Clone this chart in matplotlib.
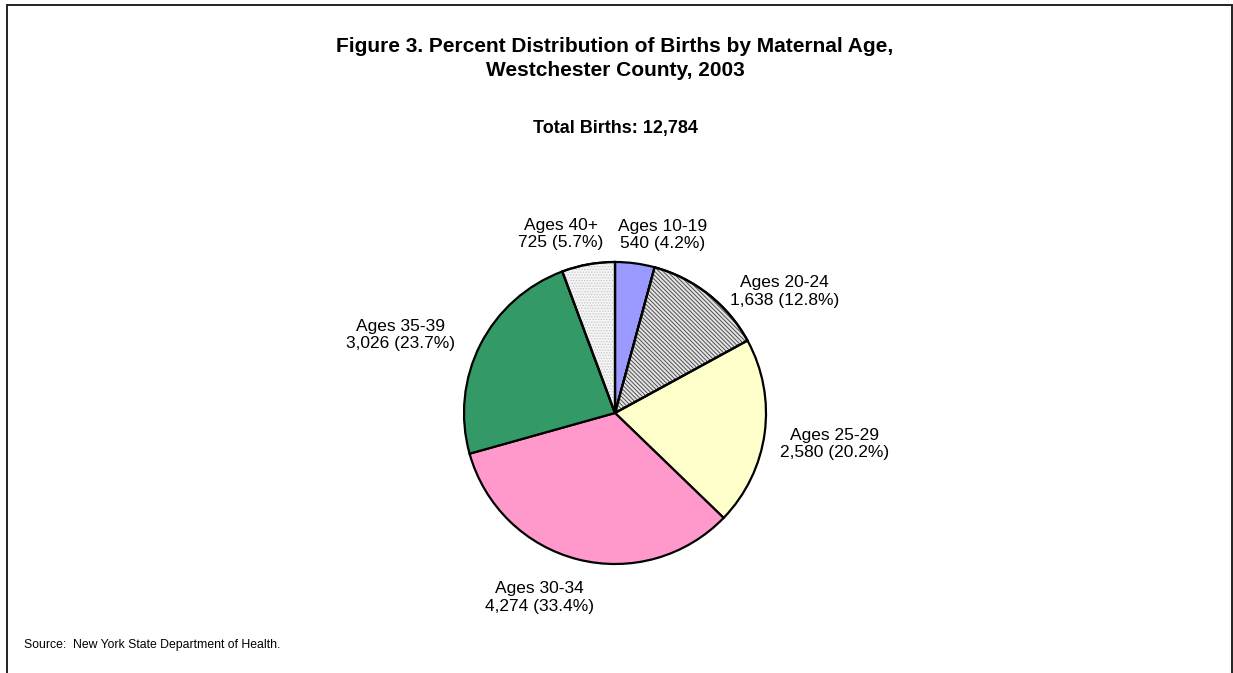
import numpy as np
import matplotlib
matplotlib.use("Agg")
import matplotlib.pyplot as plt
from matplotlib.patches import Wedge, Rectangle

plt.rcParams["font.family"] = ["Liberation Sans", "DejaVu Sans"]
plt.rcParams["hatch.linewidth"] = 0.7

age_groups = ["Ages 10-19", "Ages 20-24", "Ages 25-29", "Ages 30-34", "Ages 35-39", "Ages 40+"]
births = [540, 1638, 2580, 4274, 3026, 725]
percents = [4.2, 12.8, 20.2, 33.4, 23.7, 5.7]
total_births = "12,784"

colors = ["#9999ff", "#e4e4e4", "#ffffcc", "#ff99cc", "#339966", "#f6f6f6"]
hatches = [None, "\\\\\\\\\\\\\\\\", None, None, None, "......"]
hatch_colors = [None, "#505050", None, None, None, "#c8c8c8"]

# label placement: angle (deg) and distance in radius units
label_angle = [75, 35.7, -8, 247.8, 160, 106.8]
label_dist = [1.22, 1.38, 1.47, 1.32, 1.51, 1.24]

fig = plt.figure(figsize=(12.33, 6.73), dpi=100)
ax = fig.add_axes([0, 0, 1, 1])

cx, cy, r = 615, 673 - 413, 151

wedges, _ = ax.pie(births, colors=colors, startangle=90, counterclock=False,
                   center=(cx, cy), radius=r, frame=True,
                   wedgeprops=dict(edgecolor="black", linewidth=1.6))
ax.set_xlim(0, 1233)
ax.set_ylim(0, 673)
ax.axis("off")

# hatch overlays drawn in their own colour, then the black outline again
for w, h, hc in zip(wedges, hatches, hatch_colors):
    if h is None:
        continue
    ov = Wedge(w.center, w.r, w.theta1, w.theta2, fill=False, hatch=h,
               edgecolor=hc, linewidth=0, zorder=w.get_zorder() + 0.1)
    ax.add_patch(ov)
    outline = Wedge(w.center, w.r, w.theta1, w.theta2, fill=False,
                    edgecolor="black", linewidth=1.6, zorder=w.get_zorder() + 0.2)
    ax.add_patch(outline)

for name, n, p, a, d in zip(age_groups, births, percents, label_angle, label_dist):
    x = cx + d * r * np.cos(np.radians(a))
    y = cy + d * r * np.sin(np.radians(a))
    ax.text(x, y, f"{name}\n{n:,} ({p}%)", ha="center", va="center",
            fontsize=12.5, linespacing=1.2)

fig.text(0.4988, 1 - 47 / 673, "Figure 3. Percent Distribution of Births by Maternal Age,",
         ha="center", va="center", fontsize=15, fontweight="bold")
fig.text(0.4988, 1 - 70 / 673, "Westchester County, 2003",
         ha="center", va="center", fontsize=15, fontweight="bold")
fig.text(0.4988, 1 - 129 / 673, f"Total Births: {total_births}",
         ha="center", va="center", fontsize=13, fontweight="bold")
fig.text(24 / 1233, 1 - 645 / 673, "Source:  New York State Department of Health.",
         ha="left", va="center", fontsize=8.8)

frame = Rectangle((7, -20), 1225, 673 - 5 + 20, fill=False, edgecolor="#222222",
                  linewidth=1.4, clip_on=False)
ax.add_patch(frame)

fig.savefig("out.png", dpi=100)
